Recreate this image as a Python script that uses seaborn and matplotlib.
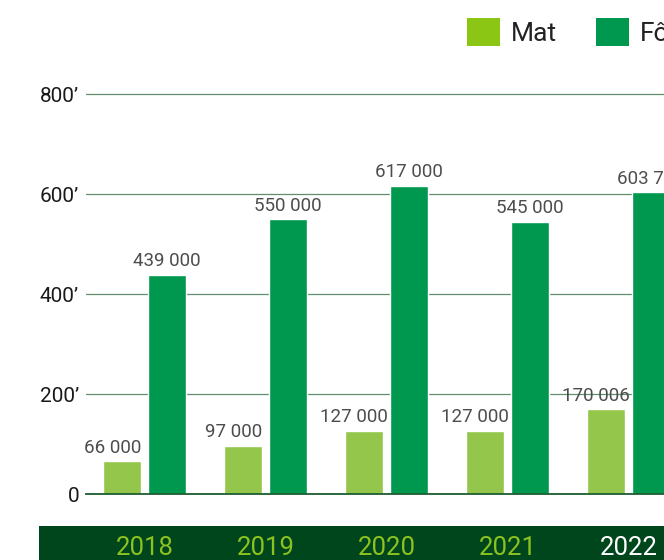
import pandas as pd
import matplotlib.pyplot as plt
import seaborn as sns
from matplotlib.patches import Patch, Rectangle
from matplotlib.transforms import blended_transform_factory

# data
years = ['2018', '2019', '2020', '2021', '2022']
mat = [66000, 97000, 127000, 127000, 170006]
for_ = [439000, 550000, 617000, 545000, 603700]
series_names = ['Mat', 'Fôr']
yticks = [0, 200000, 400000, 600000, 800000]

bar_colors = {'Mat': '#93c64b', 'Fôr': '#00984f'}
legend_colors = {'Mat': '#8cc614', 'Fôr': '#00984f'}


def fmt_num(v):
    return f"{v:,}".replace(',', ' ')


def fmt_tick(v):
    return '0' if v == 0 else f"{v // 1000}\u2019"


def main():
    sns.set_style('white')
    plt.rcParams['font.family'] = ['Roboto', 'DejaVu Sans']

    df = pd.DataFrame({
        'year': years * 2,
        'type': ['Mat'] * len(years) + ['Fôr'] * len(years),
        'value': mat + for_,
    })

    W, H = 664, 560
    fig = plt.figure(figsize=(W / 100, H / 100), dpi=100)
    ax = fig.add_axes([86 / W, 66 / H, 1 - 86 / W, 0.85 - 66 / H])
    ax.patch.set_alpha(0)

    sns.barplot(data=df, x='year', y='value', hue='type', order=years,
                hue_order=series_names, palette=bar_colors, width=0.745,
                gap=0.16, saturation=1, legend=False, ax=ax, zorder=3)

    ax.set_xlim((86 - 144.5) / 121, (W - 144.5) / 121)
    ax.set_ylim(0, 820000)
    ax.set_yticks(yticks)
    ax.set_yticklabels([fmt_tick(v) for v in yticks])
    ax.tick_params(axis='y', length=0, pad=5, labelsize=15, labelcolor='#1a1a1a')
    ax.tick_params(axis='x', length=0, labelbottom=False)
    ax.set_xlabel('')
    ax.set_ylabel('')

    ax.yaxis.grid(True, color='#5f8f6c', linewidth=0.9)
    ax.set_axisbelow(True)
    for s in ['top', 'right', 'left']:
        ax.spines[s].set_visible(False)
    ax.spines['bottom'].set_color('#1d5c30')
    ax.spines['bottom'].set_linewidth(1.3)
    ax.spines['bottom'].set_zorder(4)

    # value labels above bars
    for name, container, vals in zip(series_names, ax.containers, [mat, for_]):
        dx = -7 if name == 'Mat' else 0
        for rect, v in zip(container, vals):
            ax.annotate(fmt_num(v), xy=(rect.get_x() + rect.get_width() / 2, v),
                        xytext=(dx, 3), textcoords='offset points',
                        ha='center', va='bottom', fontsize=13.5, color='#4d4d4d',
                        annotation_clip=False)

    # year band
    fig.add_artist(Rectangle((39 / W, 0), 1, 34 / H, transform=fig.transFigure,
                             facecolor='#00461d', edgecolor='none', zorder=-1))
    trans = blended_transform_factory(ax.transData, fig.transFigure)
    for i, yr in enumerate(years):
        ax.text(i, 5 / H, yr, transform=trans, ha='center', va='baseline',
                fontsize=18.5, color='white' if yr == '2022' else '#8cc21f')

    handles = [Patch(facecolor=legend_colors[n], edgecolor='none') for n in series_names]
    fig.legend(handles, series_names, loc='upper left',
               bbox_to_anchor=(467 / W, 1 - 18 / H), ncol=2, frameon=False,
               borderpad=0, borderaxespad=0, handlelength=1.25, handleheight=1.25,
               handletextpad=0.4, columnspacing=1.5, fontsize=19,
               labelcolor='#222222')

    fig.savefig('out.png', dpi=100)
    plt.close(fig)


if __name__ == '__main__':
    main()
